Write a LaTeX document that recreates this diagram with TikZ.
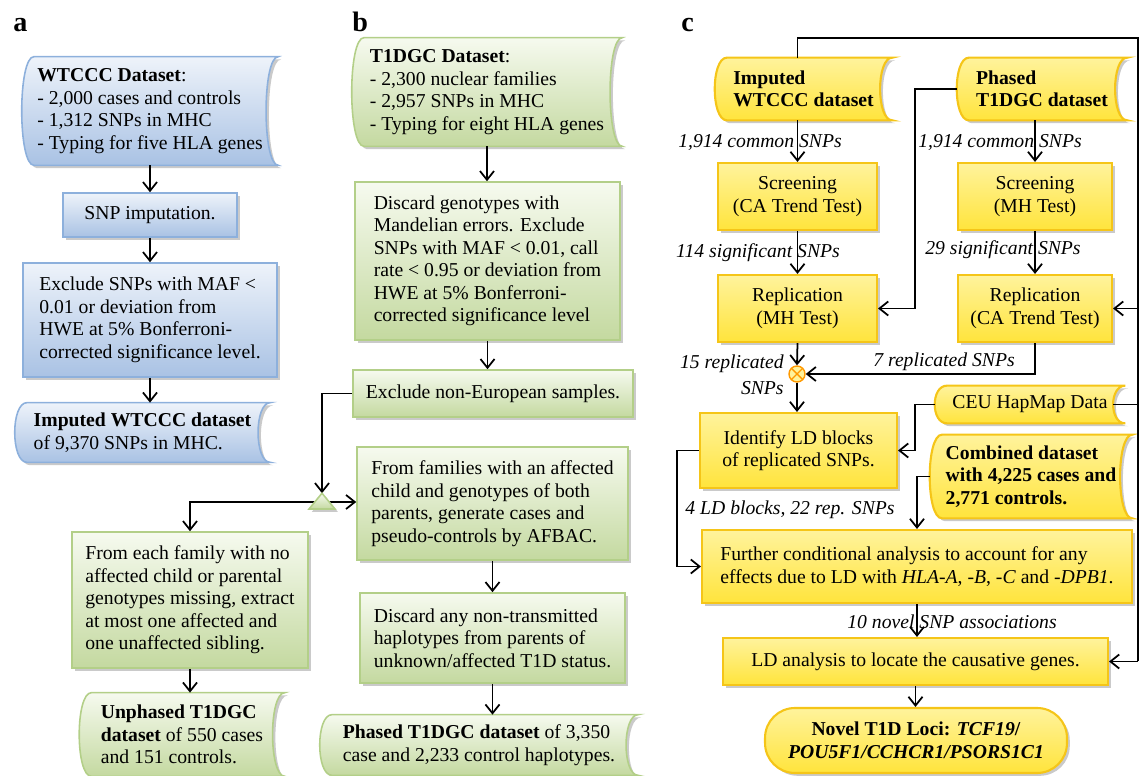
\documentclass[tikz,border=0pt]{standalone}
\usepackage{fontspec}
\setmainfont{Liberation Serif}
\usetikzlibrary{shadows,backgrounds,arrows.meta}

\definecolor{blueline}{HTML}{8DB0DC}
\definecolor{bluetop}{HTML}{EEF3FA}
\definecolor{bluebot}{HTML}{A9C2E4}
\definecolor{greenline}{HTML}{B3CF88}
\definecolor{greentop}{HTML}{F6FAEF}
\definecolor{greenbot}{HTML}{C4D9A0}
\definecolor{yelline}{HTML}{F5C518}
\definecolor{yeltop}{HTML}{FFF39C}
\definecolor{yelbot}{HTML}{FFE43C}

\begin{document}
\begin{tikzpicture}[
  x=0.02cm, y=-0.02cm,
  every node/.style={font=\fontsize{11.2}{12.8}\selectfont},
  bluefill/.style={draw=blueline, line width=0.9pt, top color=bluetop, bottom color=bluebot,
    drop shadow={shadow xshift=1.6pt, shadow yshift=-1.6pt, fill=black!35, opacity=0.6}},
  greenfill/.style={draw=greenline, line width=0.9pt, top color=greentop, bottom color=greenbot,
    drop shadow={shadow xshift=1.6pt, shadow yshift=-1.6pt, fill=black!35, opacity=0.6}},
  yellowfill/.style={draw=yelline, line width=1.2pt, top color=yeltop, bottom color=yelbot,
    drop shadow={shadow xshift=1.6pt, shadow yshift=-1.6pt, fill=black!35, opacity=0.6}},
  box/.style={rectangle, align=left, inner sep=4pt},
  bbox/.style={box, bluefill},
  gbox/.style={box, greenfill},
  ybox/.style={box, yellowfill, align=center},
  stored/.style={rectangle, align=left, inner sep=2pt},
  ox/.style={circle, draw=orange!80!yellow, thick, fill=yeltop, minimum size=0.32cm, inner sep=0pt,
    path picture={\draw[orange!80!yellow, thick]
      (path picture bounding box.south west) -- (path picture bounding box.north east)
      (path picture bounding box.north west) -- (path picture bounding box.south east);}},
  lbl/.style={font=\fontsize{11.2}{12.8}\selectfont\itshape, inner sep=0pt},
  panel/.style={font=\fontsize{16}{18}\selectfont\bfseries, inner sep=0pt, anchor=base west},
  arr/.style={-{Straight Barb[length=5pt,width=8pt]}, line width=1pt},
  line/.style={line width=1pt},
]
\useasboundingbox (0,0) rectangle (1140,776);

\node[panel] (la) at (13,32) {a};
\node[panel] (lb) at (352,32) {b};
\node[panel] (lc) at (681,32) {c};

% panel a
\node[stored, minimum width=5.12cm, minimum height=2.16cm] (wds) at (150,111)
  {\textbf{WTCCC Dataset}:\\- 2,000 cases and controls\\- 1,312 SNPs in MHC\\- Typing for five HLA genes};
\node[bbox, align=center, minimum width=3.48cm, minimum height=0.88cm] (imp) at (150,215) {SNP imputation.};
\node[bbox, minimum width=5.08cm, minimum height=2.28cm] (excl) at (150,320)
  {Exclude SNPs with MAF <\\0.01 or deviation from\\HWE at 5\% Bonferroni-\\corrected significance level.};
\node[stored, minimum width=5.10cm, minimum height=1.18cm] (iwds) at (142.5,432.5)
  {\textbf{Imputed WTCCC dataset}\\of 9,370 SNPs in MHC.};

% panel b
\node[stored, minimum width=5.40cm, minimum height=2.16cm] (tds) at (487,92)
  {\textbf{T1DGC Dataset}:\\- 2,300 nuclear families\\- 2,957 SNPs in MHC\\- Typing for eight HLA genes};
\node[gbox, minimum width=5.30cm, minimum height=3.16cm] (disc) at (487.5,261)
  {Discard genotypes with\\Mandelian errors. Exclude\\SNPs with MAF < 0.01, call\\rate < 0.95 or deviation from\\HWE at 5\% Bonferroni-\\corrected significance level};
\node[gbox, minimum width=5.60cm, minimum height=0.94cm] (neu) at (493,393.5) {Exclude non-European samples.};
\node[gbox, minimum width=5.42cm, minimum height=2.26cm] (fams) at (492.5,503.5)
  {From families with an affected\\child and genotypes of both\\parents, generate cases and\\pseudo-controls by AFBAC.};
\node[gbox, minimum width=5.30cm, minimum height=1.80cm] (dany) at (492.5,638)
  {Discard any non-transmitted\\haplotypes from parents of\\unknown/affected T1D status.};
\node[stored, minimum width=6.36cm, minimum height=1.20cm] (pds) at (479,745)
  {\textbf{Phased T1DGC dataset} of 3,350\\case and 2,233 control haplotypes.};
\node[gbox, minimum width=4.72cm, minimum height=2.72cm] (each) at (190,600)
  {From each family with no\\affected child or parental\\genotypes missing, extract\\at most one affected and\\one unaffected sibling.};
\node[stored, minimum width=4.10cm, minimum height=1.66cm] (uds) at (182,734.5)
  {\textbf{Unphased T1DGC}\\\textbf{dataset} of 550 cases\\and 151 controls.};
\coordinate (tri) at (322,502);

% panel c
\node[stored, minimum width=3.54cm, minimum height=1.24cm] (iw) at (803.5,89)
  {\textbf{Imputed}\\\textbf{WTCCC dataset}};
\node[stored, minimum width=3.40cm, minimum height=1.24cm] (pt) at (1042,89)
  {\textbf{Phased}\\\textbf{T1DGC dataset}};
\node[ybox, minimum width=3.18cm, minimum height=1.34cm] (scr1) at (797.5,196.5) {Screening\\(CA Trend Test)};
\node[ybox, minimum width=3.18cm, minimum height=1.34cm] (rep1) at (797.5,308.5) {Replication\\(MH Test)};
\node[ybox, minimum width=3.08cm, minimum height=1.34cm] (scr2) at (1035,196.5) {Screening\\(MH Test)};
\node[ybox, minimum width=3.08cm, minimum height=1.34cm] (rep2) at (1035,308.5) {Replication\\(CA Trend Test)};
\node[ox] (mix) at (797,374) {};
\node[ybox, minimum width=3.94cm, minimum height=1.50cm] (ident) at (798.5,450.5) {Identify LD blocks\\of replicated SNPs.};
\node[stored, minimum width=3.80cm, minimum height=0.74cm] (ceu) at (1030,404.5) {CEU HapMap Data};
\node[stored, minimum width=4.04cm, minimum height=1.66cm] (comb) at (1031,476.5)
  {\textbf{Combined dataset}\\\textbf{with 4,225 cases and}\\\textbf{2,771 controls.}};
\node[ybox, align=left, minimum width=8.60cm, minimum height=1.46cm] (further) at (917,566.5)
  {Further conditional analysis to account for any\\effects due to LD with \textit{HLA-A}, \textit{-B}, \textit{-C} and \textit{-DPB1}.};
\node[ybox, minimum width=7.70cm, minimum height=0.94cm] (lda) at (915.5,661.5) {LD analysis to locate the causative genes.};
\node[ybox, rounded corners=17pt, minimum width=6.04cm, minimum height=1.30cm] (novel) at (916,740.5)
  {\textbf{Novel T1D Loci: \textit{TCF19}/}\\\textbf{\textit{POU5F1/CCHCR1/PSORS1C1}}};
\coordinate (fb) at (1138,38);

% edge labels
\node[lbl] (c1) at (760,143) {1,914 common SNPs};
\node[lbl] (c2) at (1000,143) {1,914 common SNPs};
\node[lbl] (s1) at (758,253) {114 significant SNPs};
\node[lbl] (s2) at (1003,250) {29 significant SNPs};
\node[lbl, align=right, anchor=east] (r1) at (784,375) {15 replicated\\[2pt]SNPs};
\node[lbl] (r2) at (944,362) {7 replicated SNPs};
\node[lbl] (ld) at (790,510) {4 LD blocks, 22 rep. SNPs};
\node[lbl] (nv) at (952,622) {10 novel SNP associations};

% stored data outlines
\begin{scope}[on background layer]
  \foreach \n/\f in {wds/bluefill, iwds/bluefill, tds/greenfill, pds/greenfill, uds/greenfill,
                     iw/yellowfill, pt/yellowfill, ceu/yellowfill, comb/yellowfill}
    \path[\f] ([xshift=7pt]\n.north west) -- (\n.north east)
      .. controls ([xshift=-9.3pt]\n.north east) and ([xshift=-9.3pt]\n.south east) .. (\n.south east)
      -- ([xshift=7pt]\n.south west)
      .. controls ([xshift=-2.3pt]\n.south west) and ([xshift=-2.3pt]\n.north west) .. ([xshift=7pt]\n.north west)
      -- cycle;
\end{scope}

% panel a
\draw[arr] (wds.south) -- (imp.north);
\draw[arr] (imp.south) -- (excl.north);
\draw[arr] (excl.south) -- (excl.south |- iwds.north);

% panel b
\draw[arr] (tds.south) -- (tds.south |- disc.north);
\draw[arr] (disc.south) -- (disc.south |- neu.north);
\draw[arr] (neu.west) -| ([yshift=5pt]tri);
\draw[arr] (tri) -- (tri -| fams.west);
\draw[arr] (tri) -| (each.north);
\draw[arr] (fams.south) -- (fams.south |- dany.north);
\draw[arr] (dany.south) -- (dany.south |- pds.north);
\draw[arr] (each.south) -- (each.south |- uds.north);
\path[greenfill] ([yshift=5pt]tri) -- ([xshift=7.4pt,yshift=-4pt]tri) -- ([xshift=-7.4pt,yshift=-4pt]tri) -- cycle;

% panel c
\draw[arr] (scr1.north |- iw.south) -- (scr1.north);
\draw[arr] (scr2.north |- pt.south) -- (scr2.north);
\draw[arr] (scr1.south) -- (rep1.north);
\draw[arr] (scr2.south) -- (rep2.north);
\draw[arr] (pt.west) -- ++(-42,0) |- (rep1.east);
\draw[arr] (rep1.south) -- (mix.north);
\draw[arr] (rep2.south) |- (mix.east);
\draw[arr] (mix.south) -- (mix.south |- ident.north);
\draw[arr] (ceu.west) -- ++(-20,0) |- (ident.east);
\draw[arr] (comb.west) -| (further.north);
\draw[arr] (ident.west) -- ++(-22,0) |- (further.west);
\draw[arr] (further.south) -- (further.south |- lda.north);
\draw[arr] (lda.south) -- (lda.south |- novel.north);
\draw[line] (scr1.north |- iw.north) |- (fb) -- (fb |- lda.east);
\draw[arr] (fb |- rep2.east) -- (rep2.east);
\draw[line] (fb |- ceu.east) -- ([xshift=-7pt]ceu.east);
\draw[arr] (fb |- lda.east) -- (lda.east);

\end{tikzpicture}
\end{document}
